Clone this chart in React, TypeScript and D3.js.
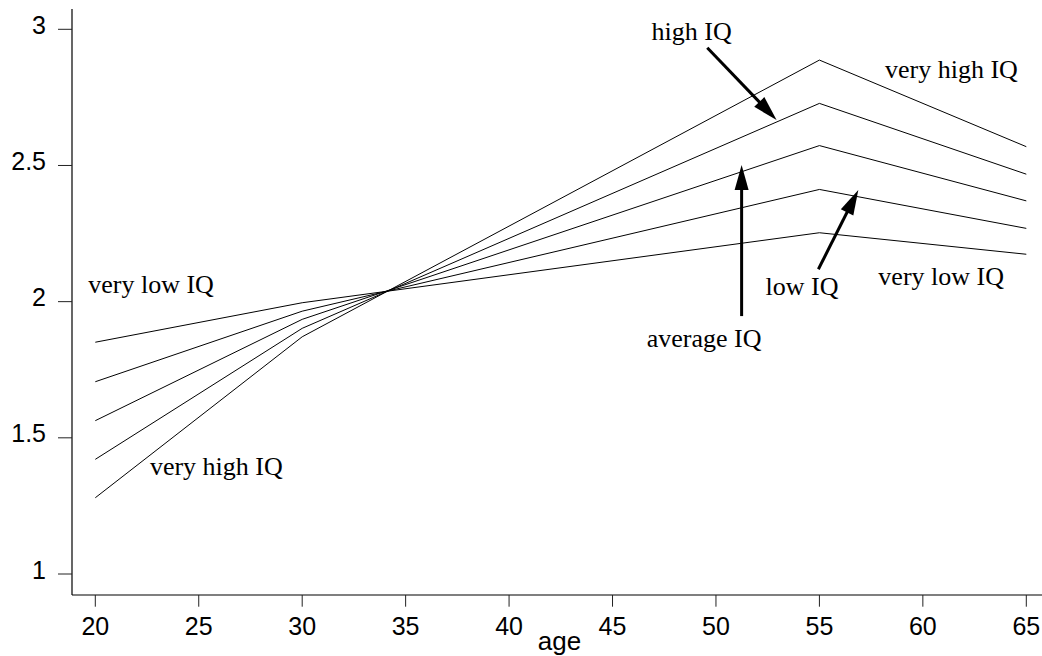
import React from "react";
import * as d3 from "d3";

const ages = [20, 30, 55, 65];
const seriesNames = ["very low IQ", "low IQ", "average IQ", "high IQ", "very high IQ"];
const veryLow = [1.851, 1.996, 2.253, 2.174];
const low = [1.706, 1.965, 2.412, 2.269];
const average = [1.563, 1.935, 2.573, 2.37];
const high = [1.421, 1.902, 2.728, 2.468];
const veryHigh = [1.28, 1.871, 2.887, 2.569];
const series = [veryLow, low, average, high, veryHigh];

const xTicks = [20, 25, 30, 35, 40, 45, 50, 55, 60, 65];
const yTicks = [1, 1.5, 2, 2.5, 3];
const yTickLabels = ["1", "1.5", "2", "2.5", "3"];

// annotations in data coordinates
const labels = [
  { text: "very low IQ", age: 19.66, v: 2.031 },
  { text: "very high IQ", age: 22.64, v: 1.3635 },
  { text: "high IQ", age: 46.89, v: 2.961 },
  { text: "very high IQ", age: 58.17, v: 2.82 },
  { text: "average IQ", age: 46.65, v: 1.835 },
  { text: "low IQ", age: 52.4, v: 2.024 },
  { text: "very low IQ", age: 57.85, v: 2.061 },
];
const arrows = [
  { from: [49.58, 2.932], to: [52.93, 2.667] },
  { from: [51.24, 1.947], to: [51.24, 2.502] },
  { from: [54.95, 2.119], to: [56.88, 2.41] },
];

export default function App() {
  const W = 1042, H = 656;
  const x = d3.scaleLinear().domain([20, 65]).range([95.3, 1026.3]);
  const y = d3.scaleLinear().domain([1, 3]).range([574, 29.3]);
  const line = d3
    .line<number>()
    .x((_, i) => x(ages[i]))
    .y((d) => y(d));
  const axisX = 72, axisY = 595;
  const serif = "'Liberation Serif', 'Times New Roman', serif";
  const sans = "'Liberation Sans', Arial, sans-serif";

  const arrowEls = arrows.map((a, i) => {
    const x0 = x(a.from[0]), y0 = y(a.from[1]);
    const x1 = x(a.to[0]), y1 = y(a.to[1]);
    const dx = x1 - x0, dy = y1 - y0;
    const len = Math.hypot(dx, dy);
    const ux = dx / len, uy = dy / len;
    const hl = 25, hw = 7;
    const bx = x1 - ux * hl, by = y1 - uy * hl;
    const px = -uy, py = ux;
    const pts = [
      [x1, y1],
      [bx + px * hw, by + py * hw],
      [bx - px * hw, by - py * hw],
    ];
    return (
      <g key={i}>
        <line x1={x0} y1={y0} x2={bx + ux * 2} y2={by + uy * 2} stroke="#000" strokeWidth={3} />
        <polygon points={pts.map((p) => p.join(",")).join(" ")} fill="#000" />
      </g>
    );
  });

  return (
    <svg width={W} height={H} style={{ position: "absolute", left: 0, top: 0 }}>
      <rect width={W} height={H} fill="#fff" />
      <line x1={axisX} y1={9} x2={axisX} y2={axisY} stroke="#000" strokeWidth={1.2} />
      <line x1={axisX} y1={axisY} x2={W} y2={axisY} stroke="#000" strokeWidth={1.2} />
      {yTicks.map((t, i) => (
        <g key={"y" + i}>
          <line x1={58} x2={axisX} y1={y(t)} y2={y(t)} stroke="#222" strokeWidth={1} />
          <text x={46} y={y(t) + 4.5} textAnchor="end" fontFamily={sans} fontSize={25} fill="#000">
            {yTickLabels[i]}
          </text>
        </g>
      ))}
      {xTicks.map((t, i) => (
        <g key={"x" + i}>
          <line x1={x(t)} x2={x(t)} y1={axisY} y2={606.7} stroke="#222" strokeWidth={1} />
          <text x={x(t)} y={635} textAnchor="middle" fontFamily={sans} fontSize={25} fill="#000">
            {t}
          </text>
        </g>
      ))}
      <text x={559.5} y={650} textAnchor="middle" fontFamily={sans} fontSize={26} fill="#000">
        age
      </text>
      {series.map((s, i) => (
        <path key={seriesNames[i]} d={line(s) || ""} fill="none" stroke="#000" strokeWidth={1} />
      ))}
      {labels.map((l, i) => (
        <text key={"l" + i} x={x(l.age)} y={y(l.v)} fontFamily={serif} fontSize={26} fill="#000">
          {l.text}
        </text>
      ))}
      {arrowEls}
    </svg>
  );
}
